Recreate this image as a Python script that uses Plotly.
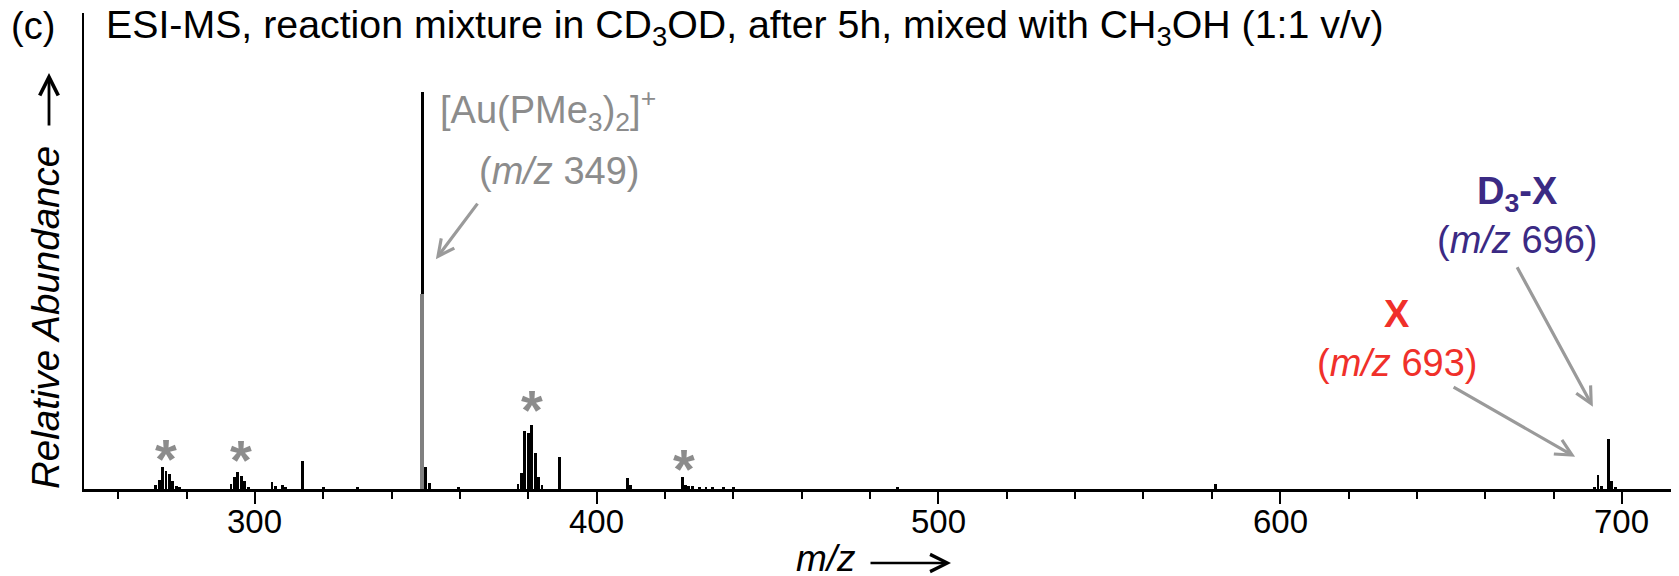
import plotly.graph_objects as go

# ---- data ----
peak_mz = [271, 272, 273, 274, 275, 276, 277, 278,
           293, 294, 295, 296, 297, 298,
           305, 306, 308, 309, 314, 320, 330,
           349, 350, 351, 359.5,
           377, 378, 379, 380, 381, 382, 383, 384,
           389, 409, 410,
           425, 426, 427, 428, 430, 432, 434, 437, 440,
           488, 581,
           692, 693, 694, 696, 697, 698]
peak_int = [1.0, 2.3, 5.5, 4.5, 3.8, 2.0, 0.8, 0.4,
            1.2, 3.0, 4.4, 3.2, 2.0, 0.6,
            1.7, 0.8, 1.0, 0.5, 7.0, 0.3, 0.3,
            100, 5.5, 1.5, 0.5,
            1.2, 4.0, 14.5, 14.0, 16.2, 9.0, 3.0, 1.0,
            8.0, 2.8, 1.0,
            3.0, 1.0, 0.8, 0.8, 0.6, 0.6, 0.5, 0.4, 0.3,
            0.4, 1.2,
            0.6, 3.6, 0.8, 12.5, 2.0, 0.5]
sim_mz = [349]
sim_int = [49]

star_mz = [274, 296, 381, 425.5]
star_y = [9.8, 9.4, 22.0, 7.3]

tick_vals = [300, 400, 500, 600, 700]
tick_text = ["300", "400", "500", "600", "700"]

OFF = 8  # default page margin of the html body
W, H = 1679 - OFF, 576 - OFF
# plot area in page pixels: x 84..1679, y 13..489
L, R, T, B = 84 - OFF, 0, 13 - OFF, 576 - 489
XR = [250, 716.7]
YR = [0, 119.9]

GRAY = "#8c8c8c"
AGRAY = "#9a9a9a"
PURPLE = "#3b2a84"
RED = "#f0302a"
FONT = "Liberation Sans, Arial, sans-serif"


def pp(px, py):
    # page pixel -> paper coords
    fx, fy = px - OFF, py - OFF
    return (fx - L) / (W - L - R), (H - B - fy) / (H - T - B)


fig = go.Figure()
fig.add_trace(go.Bar(x=peak_mz, y=peak_int, width=0.85,
                     marker=dict(color="black", line=dict(width=0)),
                     showlegend=False, hoverinfo="skip"))
fig.add_trace(go.Bar(x=sim_mz, y=sim_int, width=1.2,
                     marker=dict(color="#808080", line=dict(width=0)),
                     showlegend=False, hoverinfo="skip"))

ann = []


def text(px, py, s, size=38, color="black", **kw):
    x, y = pp(px, py)
    d = dict(x=x, y=y, xref="paper", yref="paper", text=s, showarrow=False,
             font=dict(size=size, color=color, family=FONT),
             xanchor="center", yanchor="middle")
    d.update(kw)
    ann.append(d)


def parrow(x0, y0, x1, y1, color, width, size=1.0):
    hx, hy = pp(x1, y1)
    ann.append(dict(x=hx, y=hy, xref="paper", yref="paper", ax=x0 - x1, ay=y0 - y1,
                    text="", showarrow=True, font=dict(size=1), borderpad=0,
                    arrowhead=5, arrowsize=size, arrowwidth=width,
                    arrowcolor=color, standoff=0))


# title
text(9, 26, "(c)", size=38, xanchor="left")
text(104, 27, "ESI-MS, reaction mixture in CD<sub>3</sub>OD, after 5h, mixed with CH<sub>3</sub>OH (1:1 v/v)",
     size=39.3, xanchor="left")
# axis titles
text(45, 318, "<i>Relative Abundance</i>", size=38.5, textangle=-90)
parrow(49, 126, 49, 73, "black", 2.8, 1.3)
text(826, 558, "<i>m/z</i>", size=37)
parrow(870, 563, 951, 563, "black", 2.6, 1.3)

# tick labels
for v, t in zip(tick_vals, tick_text):
    _, ty = pp(0, 521)
    ann.append(dict(x=v, y=ty, xref="x", yref="paper", text=t, showarrow=False,
                    font=dict(size=33, family=FONT, color="black"),
                    xanchor="center", yanchor="middle"))

# labels
text(548, 110, "[Au(PMe<sub>3</sub>)<sub>2</sub>]<sup>+</sup>", color=GRAY)
text(559, 171, "(<i>m/z</i> 349)", color=GRAY)
text(1517, 194, "<b>D<sub>3</sub>-X</b>", color=PURPLE)
text(1517, 240, "(<i>m/z</i> 696)", color=PURPLE)
text(1397, 314, "<b>X</b>", color=RED)
text(1397, 363, "(<i>m/z</i> 693)", color=RED)

# arrows (head in data coords, tail offset in px)
for hx, hy, ax, ay in [(352.96, 57.9, 42, -56), (691.5, 20.7, -76, -140), (686.3, 8.1, -122, -70)]:
    ann.append(dict(x=hx, y=hy, xref="x", yref="y", ax=ax, ay=ay, text="",
                    font=dict(size=1), borderpad=0,
                    showarrow=True, arrowhead=5, arrowsize=1, arrowwidth=3.2,
                    arrowcolor=AGRAY, standoff=0))

# stars
for m, y in zip(star_mz, star_y):
    ann.append(dict(x=m, y=y, xref="x", yref="y", text="<b>*</b>", showarrow=False,
                    font=dict(size=56, color=GRAY, family=FONT), yshift=-8,
                    xanchor="center", yanchor="middle"))

fig.update_layout(
    width=W, height=H, margin=dict(l=L, r=R, t=T, b=B),
    paper_bgcolor="white", plot_bgcolor="white",
    barmode="overlay", bargap=0,
    annotations=ann,
    xaxis=dict(range=XR, showgrid=False, zeroline=False, showline=True,
               linecolor="black", linewidth=3, ticks="outside", ticklen=12,
               tickwidth=2, tickcolor="black", tickvals=tick_vals,
               showticklabels=False,
               minor=dict(dtick=20, tick0=0, ticks="outside", ticklen=7, tickwidth=2,
                          tickcolor="black", showgrid=False)),
    yaxis=dict(range=YR, showgrid=False, zeroline=False, showline=True,
               linecolor="black", linewidth=2, ticks="", showticklabels=False),
)

fig.write_html("out.html")
